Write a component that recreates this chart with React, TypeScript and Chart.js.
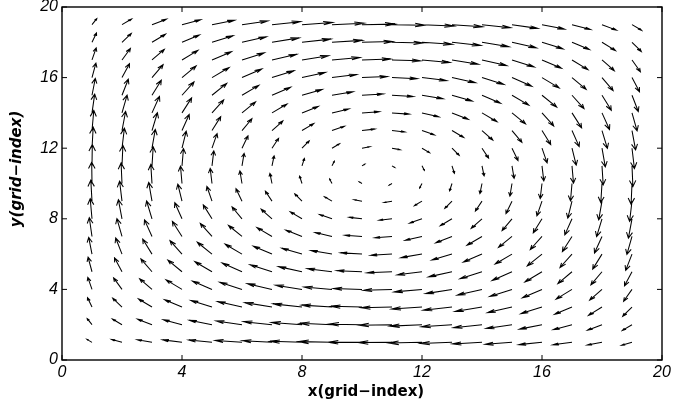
import { useEffect, useRef } from "react";
import { Chart, registerables } from "chart.js";

Chart.register(...registerables);

// Grid positions (grid-index) of the arrow tails
const X_VALUES = [1, 2, 3, 4, 5, 6, 7, 8, 9, 10, 11, 12, 13, 14, 15, 16, 17, 18, 19];
const Y_VALUES = [1, 2, 3, 4, 5, 6, 7, 8, 9, 10, 11, 12, 13, 14, 15, 16, 17, 18, 19];

// Horizontal components, one row per y (bottom row first)
const U_ROWS = [
  [-0.17, -0.34, -0.49, -0.64, -0.77, -0.89, -0.99, -1.06, -1.11, -1.13, -1.13, -1.11, -1.06, -0.99, -0.89, -0.77, -0.64, -0.49, -0.34],
  [-0.16, -0.32, -0.48, -0.62, -0.75, -0.86, -0.95, -1.02, -1.07, -1.10, -1.10, -1.07, -1.02, -0.95, -0.86, -0.75, -0.62, -0.48, -0.32],
  [-0.15, -0.31, -0.45, -0.58, -0.70, -0.81, -0.90, -0.96, -1.01, -1.03, -1.03, -1.01, -0.96, -0.90, -0.81, -0.70, -0.58, -0.45, -0.31],
  [-0.14, -0.28, -0.41, -0.53, -0.65, -0.74, -0.82, -0.88, -0.93, -0.95, -0.95, -0.93, -0.88, -0.82, -0.74, -0.65, -0.53, -0.41, -0.28],
  [-0.13, -0.25, -0.37, -0.47, -0.57, -0.66, -0.73, -0.78, -0.82, -0.84, -0.84, -0.82, -0.78, -0.73, -0.66, -0.57, -0.47, -0.37, -0.25],
  [-0.11, -0.21, -0.31, -0.40, -0.49, -0.56, -0.62, -0.67, -0.70, -0.71, -0.71, -0.70, -0.67, -0.62, -0.56, -0.49, -0.40, -0.31, -0.21],
  [-0.09, -0.17, -0.25, -0.32, -0.39, -0.45, -0.50, -0.54, -0.56, -0.57, -0.57, -0.56, -0.54, -0.50, -0.45, -0.39, -0.32, -0.25, -0.17],
  [-0.06, -0.12, -0.18, -0.24, -0.29, -0.33, -0.36, -0.39, -0.41, -0.42, -0.42, -0.41, -0.39, -0.36, -0.33, -0.29, -0.24, -0.18, -0.12],
  [-0.04, -0.08, -0.11, -0.14, -0.17, -0.20, -0.22, -0.24, -0.25, -0.26, -0.26, -0.25, -0.24, -0.22, -0.20, -0.17, -0.14, -0.11, -0.08],
  [-0.01, -0.03, -0.04, -0.05, -0.06, -0.07, -0.07, -0.08, -0.08, -0.09, -0.09, -0.08, -0.08, -0.07, -0.07, -0.06, -0.05, -0.04, -0.03],
  [0.01, 0.03, 0.04, 0.05, 0.06, 0.07, 0.07, 0.08, 0.08, 0.09, 0.09, 0.08, 0.08, 0.07, 0.07, 0.06, 0.05, 0.04, 0.03],
  [0.04, 0.08, 0.11, 0.14, 0.17, 0.20, 0.22, 0.24, 0.25, 0.26, 0.26, 0.25, 0.24, 0.22, 0.20, 0.17, 0.14, 0.11, 0.08],
  [0.06, 0.12, 0.18, 0.24, 0.29, 0.33, 0.36, 0.39, 0.41, 0.42, 0.42, 0.41, 0.39, 0.36, 0.33, 0.29, 0.24, 0.18, 0.12],
  [0.09, 0.17, 0.25, 0.32, 0.39, 0.45, 0.50, 0.54, 0.56, 0.57, 0.57, 0.56, 0.54, 0.50, 0.45, 0.39, 0.32, 0.25, 0.17],
  [0.11, 0.21, 0.31, 0.40, 0.49, 0.56, 0.62, 0.67, 0.70, 0.71, 0.71, 0.70, 0.67, 0.62, 0.56, 0.49, 0.40, 0.31, 0.21],
  [0.13, 0.25, 0.37, 0.47, 0.57, 0.66, 0.73, 0.78, 0.82, 0.84, 0.84, 0.82, 0.78, 0.73, 0.66, 0.57, 0.47, 0.37, 0.25],
  [0.14, 0.28, 0.41, 0.53, 0.65, 0.74, 0.82, 0.88, 0.93, 0.95, 0.95, 0.93, 0.88, 0.82, 0.74, 0.65, 0.53, 0.41, 0.28],
  [0.15, 0.31, 0.45, 0.58, 0.70, 0.81, 0.90, 0.96, 1.01, 1.03, 1.03, 1.01, 0.96, 0.90, 0.81, 0.70, 0.58, 0.45, 0.31],
  [0.16, 0.32, 0.48, 0.62, 0.75, 0.86, 0.95, 1.02, 1.07, 1.10, 1.10, 1.07, 1.02, 0.95, 0.86, 0.75, 0.62, 0.48, 0.32],
];

// Vertical components, one row per y (bottom row first)
const V_ROWS = [
  [0.17, 0.16, 0.15, 0.14, 0.13, 0.11, 0.09, 0.06, 0.04, 0.01, -0.01, -0.04, -0.06, -0.09, -0.11, -0.13, -0.14, -0.15, -0.16],
  [0.34, 0.32, 0.31, 0.28, 0.25, 0.21, 0.17, 0.12, 0.08, 0.03, -0.03, -0.08, -0.12, -0.17, -0.21, -0.25, -0.28, -0.31, -0.32],
  [0.53, 0.50, 0.46, 0.41, 0.37, 0.31, 0.25, 0.18, 0.11, 0.04, -0.04, -0.11, -0.18, -0.25, -0.31, -0.37, -0.41, -0.47, -0.52],
  [0.68, 0.65, 0.60, 0.54, 0.47, 0.40, 0.32, 0.24, 0.14, 0.05, -0.05, -0.14, -0.24, -0.32, -0.40, -0.47, -0.55, -0.61, -0.67],
  [0.82, 0.79, 0.73, 0.66, 0.57, 0.49, 0.39, 0.29, 0.17, 0.06, -0.06, -0.17, -0.29, -0.39, -0.49, -0.58, -0.67, -0.74, -0.80],
  [0.95, 0.91, 0.85, 0.76, 0.67, 0.56, 0.45, 0.33, 0.20, 0.07, -0.07, -0.20, -0.33, -0.45, -0.56, -0.67, -0.76, -0.85, -0.92],
  [1.06, 1.01, 0.94, 0.85, 0.74, 0.62, 0.50, 0.36, 0.22, 0.07, -0.07, -0.22, -0.36, -0.50, -0.62, -0.74, -0.85, -0.94, -1.02],
  [1.14, 1.08, 1.01, 0.91, 0.79, 0.67, 0.54, 0.39, 0.24, 0.08, -0.08, -0.24, -0.39, -0.54, -0.67, -0.79, -0.91, -1.01, -1.10],
  [1.19, 1.13, 1.06, 0.96, 0.83, 0.70, 0.56, 0.41, 0.25, 0.08, -0.08, -0.25, -0.41, -0.56, -0.70, -0.83, -0.96, -1.06, -1.15],
  [1.21, 1.16, 1.08, 0.98, 0.85, 0.71, 0.57, 0.42, 0.26, 0.09, -0.09, -0.26, -0.42, -0.57, -0.71, -0.85, -0.98, -1.08, -1.18],
  [1.21, 1.16, 1.08, 0.98, 0.85, 0.71, 0.57, 0.42, 0.26, 0.09, -0.09, -0.26, -0.42, -0.57, -0.71, -0.85, -0.98, -1.08, -1.18],
  [1.19, 1.13, 1.06, 0.96, 0.83, 0.70, 0.56, 0.41, 0.25, 0.08, -0.08, -0.25, -0.41, -0.56, -0.70, -0.83, -0.96, -1.06, -1.15],
  [1.14, 1.08, 1.01, 0.91, 0.79, 0.67, 0.54, 0.39, 0.24, 0.08, -0.08, -0.24, -0.39, -0.54, -0.67, -0.79, -0.91, -1.01, -1.10],
  [1.06, 1.01, 0.94, 0.85, 0.74, 0.62, 0.50, 0.36, 0.22, 0.07, -0.07, -0.22, -0.36, -0.50, -0.62, -0.74, -0.85, -0.94, -1.02],
  [0.95, 0.91, 0.85, 0.76, 0.67, 0.56, 0.45, 0.33, 0.20, 0.07, -0.07, -0.20, -0.33, -0.45, -0.56, -0.67, -0.76, -0.85, -0.92],
  [0.82, 0.79, 0.73, 0.66, 0.57, 0.49, 0.39, 0.29, 0.17, 0.06, -0.06, -0.17, -0.29, -0.39, -0.49, -0.58, -0.67, -0.74, -0.80],
  [0.68, 0.65, 0.60, 0.54, 0.47, 0.40, 0.32, 0.24, 0.14, 0.05, -0.05, -0.14, -0.24, -0.32, -0.40, -0.47, -0.55, -0.61, -0.67],
  [0.53, 0.50, 0.46, 0.41, 0.37, 0.31, 0.25, 0.18, 0.11, 0.04, -0.04, -0.11, -0.18, -0.25, -0.31, -0.37, -0.41, -0.47, -0.52],
  [0.34, 0.32, 0.31, 0.28, 0.25, 0.21, 0.17, 0.12, 0.08, 0.03, -0.03, -0.08, -0.12, -0.17, -0.21, -0.25, -0.28, -0.31, -0.32],
];

const AXIS_MIN = 0;
const AXIS_MAX = 20;
const TICK_STEP = 4;
const X_TITLE = "x(grid\u2212index)";
const Y_TITLE = "y(grid\u2212index)";

type QPoint = { x: number; y: number; u: number; v: number };

export default function App() {
  const ref = useRef<HTMLCanvasElement>(null);

  useEffect(() => {
    if (!ref.current) return;
    const points: QPoint[] = [];
    Y_VALUES.forEach((y, j) => {
      X_VALUES.forEach((x, i) => {
        points.push({ x, y, u: U_ROWS[j][i], v: V_ROWS[j][i] });
      });
    });

    const quiverPlugin = {
      id: "quiver",
      afterDatasetsDraw(chart: any) {
        const { ctx } = chart;
        const xs = chart.scales.x;
        const ys = chart.scales.y;
        const meta = chart.getDatasetMeta(0);
        const alpha = 0.3;
        const beta = 0.3;
        ctx.save();
        ctx.strokeStyle = "#000";
        ctx.lineWidth = 1.05;
        ctx.beginPath();
        points.forEach((p, k) => {
          const el = meta.data[k];
          const tx = p.x + p.u;
          const ty = p.y + p.v;
          const h1x = tx - alpha * (p.u + beta * p.v);
          const h1y = ty - alpha * (p.v - beta * p.u);
          const h2x = tx - alpha * (p.u - beta * p.v);
          const h2y = ty - alpha * (p.v + beta * p.u);
          const tipX = xs.getPixelForValue(tx);
          const tipY = ys.getPixelForValue(ty);
          ctx.moveTo(el.x, el.y);
          ctx.lineTo(tipX, tipY);
          ctx.moveTo(xs.getPixelForValue(h1x), ys.getPixelForValue(h1y));
          ctx.lineTo(tipX, tipY);
          ctx.lineTo(xs.getPixelForValue(h2x), ys.getPixelForValue(h2y));
        });
        ctx.stroke();
        ctx.restore();
      },
      afterDraw(chart: any) {
        const { ctx, chartArea } = chart;
        const { left, right, top, bottom } = chartArea;
        const xs = chart.scales.x;
        const ys = chart.scales.y;
        ctx.save();
        ctx.strokeStyle = "#000";
        ctx.lineWidth = 1.4;
        ctx.strokeRect(left, top, right - left, bottom - top);
        ctx.lineWidth = 1;
        ctx.beginPath();
        const tl = 5;
        xs.ticks.forEach((t: any) => {
          const px = xs.getPixelForValue(t.value);
          ctx.moveTo(px, bottom);
          ctx.lineTo(px, bottom - tl);
          ctx.moveTo(px, top);
          ctx.lineTo(px, top + tl);
        });
        ys.ticks.forEach((t: any) => {
          const py = ys.getPixelForValue(t.value);
          ctx.moveTo(left, py);
          ctx.lineTo(left + tl, py);
          ctx.moveTo(right, py);
          ctx.lineTo(right - tl, py);
        });
        ctx.stroke();

        ctx.fillStyle = "#000";
        ctx.textAlign = "center";
        ctx.textBaseline = "middle";
        ctx.font = 'bold 15px "DejaVu Sans", sans-serif';
        ctx.fillText(X_TITLE, 366, 392.5);
        ctx.translate(17.5, 169);
        ctx.rotate(-Math.PI / 2);
        ctx.font = 'italic bold 15px "DejaVu Sans", sans-serif';
        ctx.fillText(Y_TITLE, 0, 0);
        ctx.restore();
      },
    };

    const tickFont = { family: '"Liberation Sans", Arial, sans-serif', size: 16, style: "italic" as const };

    const chart = new Chart(ref.current, {
      type: "scatter",
      data: {
        datasets: [
          {
            data: points.map((p) => ({ x: p.x, y: p.y })),
            pointRadius: 0,
            pointHoverRadius: 0,
            showLine: false,
          },
        ],
      },
      options: {
        responsive: false,
        animation: false,
        events: [],
        layout: { padding: { top: 7, right: 13, left: 0, bottom: 0 } },
        plugins: { legend: { display: false }, tooltip: { enabled: false } },
        scales: {
          x: {
            type: "linear",
            min: AXIS_MIN,
            max: AXIS_MAX,
            ticks: {
              stepSize: TICK_STEP,
              padding: 3,
              color: "#000",
              font: tickFont,
              maxRotation: 0,
              autoSkip: false,
            },
            grid: { display: false, drawTicks: false, tickLength: 0 },
            border: { display: false },
            afterFit(s: any) {
              s.height = 44;
              s.paddingLeft = 0;
              s.paddingRight = 0;
            },
          },
          y: {
            type: "linear",
            min: AXIS_MIN,
            max: AXIS_MAX,
            ticks: {
              stepSize: TICK_STEP,
              padding: 4,
              color: "#000",
              font: tickFont,
              autoSkip: false,
            },
            grid: { display: false, drawTicks: false, tickLength: 0 },
            border: { display: false },
            afterFit(s: any) {
              s.width = 62;
              s.paddingTop = 0;
              s.paddingBottom = 0;
            },
          },
        },
      },
      plugins: [quiverPlugin],
    });

    return () => chart.destroy();
  }, []);

  return (
    <div style={{ position: "fixed", left: 0, top: 0, width: 675, height: 404, background: "#fff" }}>
      <canvas ref={ref} width={675} height={404} style={{ display: "block" }} />
    </div>
  );
}
